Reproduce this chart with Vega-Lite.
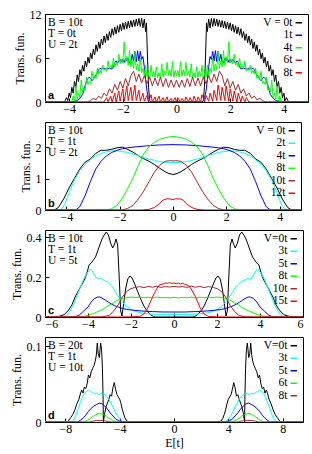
{
"$schema": "https://vega.github.io/schema/vega-lite/v6.json",
"padding": {"left": 9, "top": 7, "right": 8, "bottom": 2},
"spacing": 6,
"config": {
 "view": {"stroke": "#000", "strokeWidth": 1},
 "axis": {"grid": false, "domain": false, "tickSize": -4, "tickColor": "#000", "labelFont": "Liberation Serif", "labelFontSize": 12, "labelColor": "#000", "titleFont": "Liberation Serif", "titleFontSize": 12, "titleFontWeight": "normal", "titleColor": "#000", "titlePadding": 3},
 "axisX": {"labelPadding": 5, "format": "d"},
 "axisY": {"labelPadding": 8},
 "legend": {"orient": "top-right", "offset": 3, "padding": 0, "symbolType": "stroke", "symbolSize": 40, "symbolStrokeWidth": 1.5, "labelFont": "Liberation Serif", "labelFontSize": 11.5, "labelColor": "#000", "labelAlign": "right", "labelOffset": -12, "rowPadding": -0.5},
 "text": {"font": "Liberation Serif", "fontSize": 11.5, "color": "#000"}
},
"resolve": {"scale": {"color": "independent", "x": "independent", "y": "independent"}, "legend": {"color": "independent"}},
"datasets": {
"a": [
{"V":0,"E":-4.9,"T":0},{"V":0,"E":-4.2,"T":0},{"V":0,"E":-4.15,"T":0.2},{"V":0,"E":-4.1,"T":0.6},{"V":0,"E":-4.05,"T":0.2},{"V":0,"E":-4.0,"T":1.2},{"V":0,"E":-3.95,"T":0.6},{"V":0,"E":-3.9,"T":2.0},{"V":0,"E":-3.85,"T":1.2},{"V":0,"E":-3.8,"T":2.8},{"V":0,"E":-3.75,"T":2.0},{"V":0,"E":-3.7,"T":3.7},{"V":0,"E":-3.65,"T":2.8},{"V":0,"E":-3.6,"T":4.4},{"V":0,"E":-3.55,"T":3.6},{"V":0,"E":-3.5,"T":5.0},{"V":0,"E":-3.45,"T":4.2},{"V":0,"E":-3.4,"T":5.6},{"V":0,"E":-3.35,"T":4.8},{"V":0,"E":-3.3,"T":6.1},{"V":0,"E":-3.25,"T":5.3},{"V":0,"E":-3.2,"T":6.7},{"V":0,"E":-3.15,"T":5.9},{"V":0,"E":-3.1,"T":7.2},{"V":0,"E":-3.05,"T":6.4},{"V":0,"E":-3.0,"T":7.8},{"V":0,"E":-2.95,"T":6.9},{"V":0,"E":-2.9,"T":8.2},{"V":0,"E":-2.85,"T":7.3},{"V":0,"E":-2.8,"T":8.6},{"V":0,"E":-2.75,"T":7.8},{"V":0,"E":-2.7,"T":9.0},{"V":0,"E":-2.65,"T":8.1},{"V":0,"E":-2.6,"T":9.3},{"V":0,"E":-2.55,"T":8.4},{"V":0,"E":-2.5,"T":9.6},{"V":0,"E":-2.45,"T":8.8},{"V":0,"E":-2.4,"T":10.0},{"V":0,"E":-2.35,"T":9.1},{"V":0,"E":-2.3,"T":10.2},{"V":0,"E":-2.25,"T":9.3},{"V":0,"E":-2.2,"T":10.4},{"V":0,"E":-2.15,"T":9.5},{"V":0,"E":-2.1,"T":10.6},{"V":0,"E":-2.05,"T":9.7},{"V":0,"E":-2.0,"T":10.8},{"V":0,"E":-1.95,"T":9.9},{"V":0,"E":-1.9,"T":10.9},{"V":0,"E":-1.85,"T":10.0},{"V":0,"E":-1.8,"T":11.0},{"V":0,"E":-1.75,"T":10.1},{"V":0,"E":-1.7,"T":11.1},{"V":0,"E":-1.65,"T":10.2},{"V":0,"E":-1.6,"T":11.2},{"V":0,"E":-1.55,"T":10.3},{"V":0,"E":-1.5,"T":11.3},{"V":0,"E":-1.45,"T":10.4},{"V":0,"E":-1.4,"T":11.4},{"V":0,"E":-1.35,"T":10.3},{"V":0,"E":-1.3,"T":11.4},{"V":0,"E":-1.25,"T":10.1},{"V":0,"E":-1.2,"T":11.3},{"V":0,"E":-1.15,"T":9.6},{"V":0,"E":-1.12,"T":10.8},{"V":0,"E":-1.08,"T":6.0},{"V":0,"E":-1.04,"T":2.0},{"V":0,"E":-1.0,"T":0.2},{"V":0,"E":-0.95,"T":0},
{"V":0,"E":0.95,"T":0},{"V":0,"E":1.0,"T":0.2},{"V":0,"E":1.04,"T":2.0},{"V":0,"E":1.08,"T":6.0},{"V":0,"E":1.12,"T":10.8},{"V":0,"E":1.15,"T":9.6},{"V":0,"E":1.2,"T":11.3},{"V":0,"E":1.25,"T":10.1},{"V":0,"E":1.3,"T":11.4},{"V":0,"E":1.35,"T":10.3},{"V":0,"E":1.4,"T":11.4},{"V":0,"E":1.45,"T":10.4},{"V":0,"E":1.5,"T":11.3},{"V":0,"E":1.55,"T":10.3},{"V":0,"E":1.6,"T":11.2},{"V":0,"E":1.65,"T":10.2},{"V":0,"E":1.7,"T":11.1},{"V":0,"E":1.75,"T":10.1},{"V":0,"E":1.8,"T":11.0},{"V":0,"E":1.85,"T":10.0},{"V":0,"E":1.9,"T":10.9},{"V":0,"E":1.95,"T":9.9},{"V":0,"E":2.0,"T":10.8},{"V":0,"E":2.05,"T":9.7},{"V":0,"E":2.1,"T":10.6},{"V":0,"E":2.15,"T":9.5},{"V":0,"E":2.2,"T":10.4},{"V":0,"E":2.25,"T":9.3},{"V":0,"E":2.3,"T":10.2},{"V":0,"E":2.35,"T":9.1},{"V":0,"E":2.4,"T":10.0},{"V":0,"E":2.45,"T":8.8},{"V":0,"E":2.5,"T":9.6},{"V":0,"E":2.55,"T":8.4},{"V":0,"E":2.6,"T":9.3},{"V":0,"E":2.65,"T":8.1},{"V":0,"E":2.7,"T":9.0},{"V":0,"E":2.75,"T":7.8},{"V":0,"E":2.8,"T":8.6},{"V":0,"E":2.85,"T":7.3},{"V":0,"E":2.9,"T":8.2},{"V":0,"E":2.95,"T":6.9},{"V":0,"E":3.0,"T":7.8},{"V":0,"E":3.05,"T":6.4},{"V":0,"E":3.1,"T":7.2},{"V":0,"E":3.15,"T":5.9},{"V":0,"E":3.2,"T":6.7},{"V":0,"E":3.25,"T":5.3},{"V":0,"E":3.3,"T":6.1},{"V":0,"E":3.35,"T":4.8},{"V":0,"E":3.4,"T":5.6},{"V":0,"E":3.45,"T":4.2},{"V":0,"E":3.5,"T":5.0},{"V":0,"E":3.55,"T":3.6},{"V":0,"E":3.6,"T":4.4},{"V":0,"E":3.65,"T":2.8},{"V":0,"E":3.7,"T":3.7},{"V":0,"E":3.75,"T":2.0},{"V":0,"E":3.8,"T":2.8},{"V":0,"E":3.85,"T":1.2},{"V":0,"E":3.9,"T":2.0},{"V":0,"E":3.95,"T":0.6},{"V":0,"E":4.0,"T":1.2},{"V":0,"E":4.05,"T":0.2},{"V":0,"E":4.1,"T":0.6},{"V":0,"E":4.15,"T":0.2},{"V":0,"E":4.2,"T":0},{"V":0,"E":4.9,"T":0},
{"V":1,"E":-4.9,"T":0},{"V":1,"E":-3.9,"T":0},{"V":1,"E":-3.8,"T":0.1},{"V":1,"E":-3.7,"T":0.2},{"V":1,"E":-3.6,"T":0.5},{"V":1,"E":-3.5,"T":1.0},{"V":1,"E":-3.45,"T":1.6},{"V":1,"E":-3.4,"T":2.3},{"V":1,"E":-3.35,"T":2.9},{"V":1,"E":-3.3,"T":3.2},{"V":1,"E":-3.25,"T":3.4},{"V":1,"E":-3.2,"T":3.2},{"V":1,"E":-3.15,"T":2.9},{"V":1,"E":-3.1,"T":3.1},{"V":1,"E":-3.05,"T":3.5},{"V":1,"E":-3.0,"T":3.6},{"V":1,"E":-2.95,"T":4.0},{"V":1,"E":-2.9,"T":4.4},{"V":1,"E":-2.85,"T":4.6},{"V":1,"E":-2.8,"T":4.5},{"V":1,"E":-2.7,"T":4.6},{"V":1,"E":-2.6,"T":4.5},{"V":1,"E":-2.5,"T":4.6},{"V":1,"E":-2.4,"T":4.5},{"V":1,"E":-2.35,"T":4.8},{"V":1,"E":-2.3,"T":5.4},{"V":1,"E":-2.25,"T":5.6},{"V":1,"E":-2.2,"T":5.3},{"V":1,"E":-2.15,"T":5.6},{"V":1,"E":-2.1,"T":5.8},{"V":1,"E":-2.05,"T":5.5},{"V":1,"E":-2.0,"T":5.8},{"V":1,"E":-1.95,"T":5.4},{"V":1,"E":-1.9,"T":5.9},{"V":1,"E":-1.85,"T":5.6},{"V":1,"E":-1.8,"T":6.0},{"V":1,"E":-1.75,"T":5.3},{"V":1,"E":-1.7,"T":5.5},{"V":1,"E":-1.65,"T":6.5},{"V":1,"E":-1.6,"T":5.6},{"V":1,"E":-1.55,"T":6.9},{"V":1,"E":-1.5,"T":5.5},{"V":1,"E":-1.45,"T":7.0},{"V":1,"E":-1.4,"T":5.6},{"V":1,"E":-1.35,"T":6.9},{"V":1,"E":-1.3,"T":5.8},{"V":1,"E":-1.25,"T":6.2},{"V":1,"E":-1.2,"T":4.8},{"V":1,"E":-1.15,"T":3.0},{"V":1,"E":-1.1,"T":1.5},{"V":1,"E":-1.05,"T":0.6},{"V":1,"E":-1.0,"T":0.1},{"V":1,"E":-0.95,"T":0},
{"V":1,"E":0.95,"T":0},{"V":1,"E":1.0,"T":0.1},{"V":1,"E":1.05,"T":0.6},{"V":1,"E":1.1,"T":1.5},{"V":1,"E":1.15,"T":3.0},{"V":1,"E":1.2,"T":4.8},{"V":1,"E":1.25,"T":6.2},{"V":1,"E":1.3,"T":5.8},{"V":1,"E":1.35,"T":6.9},{"V":1,"E":1.4,"T":5.6},{"V":1,"E":1.45,"T":7.0},{"V":1,"E":1.5,"T":5.5},{"V":1,"E":1.55,"T":6.9},{"V":1,"E":1.6,"T":5.6},{"V":1,"E":1.65,"T":6.5},{"V":1,"E":1.7,"T":5.5},{"V":1,"E":1.75,"T":5.3},{"V":1,"E":1.8,"T":6.0},{"V":1,"E":1.85,"T":5.6},{"V":1,"E":1.9,"T":5.9},{"V":1,"E":1.95,"T":5.4},{"V":1,"E":2.0,"T":5.8},{"V":1,"E":2.05,"T":5.5},{"V":1,"E":2.1,"T":5.8},{"V":1,"E":2.15,"T":5.6},{"V":1,"E":2.2,"T":5.3},{"V":1,"E":2.25,"T":5.6},{"V":1,"E":2.3,"T":5.4},{"V":1,"E":2.35,"T":4.8},{"V":1,"E":2.4,"T":4.5},{"V":1,"E":2.5,"T":4.6},{"V":1,"E":2.6,"T":4.5},{"V":1,"E":2.7,"T":4.6},{"V":1,"E":2.8,"T":4.5},{"V":1,"E":2.85,"T":4.6},{"V":1,"E":2.9,"T":4.4},{"V":1,"E":2.95,"T":4.0},{"V":1,"E":3.0,"T":3.6},{"V":1,"E":3.05,"T":3.5},{"V":1,"E":3.1,"T":3.1},{"V":1,"E":3.15,"T":2.9},{"V":1,"E":3.2,"T":3.2},{"V":1,"E":3.25,"T":3.4},{"V":1,"E":3.3,"T":3.2},{"V":1,"E":3.35,"T":2.9},{"V":1,"E":3.4,"T":2.3},{"V":1,"E":3.45,"T":1.6},{"V":1,"E":3.5,"T":1.0},{"V":1,"E":3.6,"T":0.5},{"V":1,"E":3.7,"T":0.2},{"V":1,"E":3.8,"T":0.1},{"V":1,"E":3.9,"T":0},{"V":1,"E":4.9,"T":0},
{"V":4,"E":-4.9,"T":0},{"V":4,"E":-3.9,"T":0},{"V":4,"E":-3.85,"T":0.8},{"V":4,"E":-3.8,"T":0.1},{"V":4,"E":-3.75,"T":2.2},{"V":4,"E":-3.7,"T":0.4},{"V":4,"E":-3.65,"T":1.2},{"V":4,"E":-3.6,"T":0.6},{"V":4,"E":-3.55,"T":3.0},{"V":4,"E":-3.5,"T":1.4},{"V":4,"E":-3.45,"T":2.0},{"V":4,"E":-3.4,"T":1.6},{"V":4,"E":-3.35,"T":3.4},{"V":4,"E":-3.3,"T":2.4},{"V":4,"E":-3.25,"T":2.8},{"V":4,"E":-3.2,"T":2.5},{"V":4,"E":-3.15,"T":4.2},{"V":4,"E":-3.1,"T":3.0},{"V":4,"E":-3.05,"T":3.6},{"V":4,"E":-3.0,"T":3.2},{"V":4,"E":-2.95,"T":4.6},{"V":4,"E":-2.9,"T":3.8},{"V":4,"E":-2.85,"T":4.3},{"V":4,"E":-2.8,"T":3.9},{"V":4,"E":-2.75,"T":5.0},{"V":4,"E":-2.7,"T":4.3},{"V":4,"E":-2.65,"T":4.6},{"V":4,"E":-2.6,"T":4.2},{"V":4,"E":-2.55,"T":5.6},{"V":4,"E":-2.5,"T":4.5},{"V":4,"E":-2.45,"T":5.0},{"V":4,"E":-2.4,"T":4.6},{"V":4,"E":-2.35,"T":6.0},{"V":4,"E":-2.3,"T":4.8},{"V":4,"E":-2.25,"T":5.3},{"V":4,"E":-2.2,"T":5.0},{"V":4,"E":-2.15,"T":6.5},{"V":4,"E":-2.1,"T":5.2},{"V":4,"E":-2.05,"T":5.8},{"V":4,"E":-2.0,"T":5.3},{"V":4,"E":-1.95,"T":8.2},{"V":4,"E":-1.9,"T":5.4},{"V":4,"E":-1.85,"T":6.2},{"V":4,"E":-1.8,"T":5.0},{"V":4,"E":-1.75,"T":7.0},{"V":4,"E":-1.7,"T":4.8},{"V":4,"E":-1.65,"T":5.6},{"V":4,"E":-1.6,"T":4.6},{"V":4,"E":-1.55,"T":6.8},{"V":4,"E":-1.5,"T":4.4},{"V":4,"E":-1.45,"T":5.2},{"V":4,"E":-1.4,"T":4.2},{"V":4,"E":-1.35,"T":6.0},{"V":4,"E":-1.3,"T":4.0},{"V":4,"E":-1.25,"T":4.6},{"V":4,"E":-1.2,"T":3.6},{"V":4,"E":-1.15,"T":5.0},{"V":4,"E":-1.1,"T":3.4},{"V":4,"E":-1.05,"T":4.0},{"V":4,"E":-1.0,"T":3.2},{"V":4,"E":-0.95,"T":5.0},{"V":4,"E":-0.9,"T":3.5},{"V":4,"E":-0.85,"T":4.2},{"V":4,"E":-0.8,"T":3.4},{"V":4,"E":-0.75,"T":4.8},{"V":4,"E":-0.7,"T":3.3},{"V":4,"E":-0.65,"T":4.0},{"V":4,"E":-0.6,"T":3.2},{"V":4,"E":-0.55,"T":5.2},{"V":4,"E":-0.5,"T":3.4},{"V":4,"E":-0.45,"T":4.2},{"V":4,"E":-0.4,"T":3.6},{"V":4,"E":-0.35,"T":5.4},{"V":4,"E":-0.3,"T":3.6},{"V":4,"E":-0.25,"T":4.4},{"V":4,"E":-0.2,"T":3.5},{"V":4,"E":-0.15,"T":5.5},{"V":4,"E":-0.1,"T":3.4},{"V":4,"E":-0.05,"T":4.3},{"V":4,"E":0,"T":3.6},
{"V":4,"E":0.05,"T":4.3},{"V":4,"E":0.1,"T":3.4},{"V":4,"E":0.15,"T":5.5},{"V":4,"E":0.2,"T":3.5},{"V":4,"E":0.25,"T":4.4},{"V":4,"E":0.3,"T":3.6},{"V":4,"E":0.35,"T":5.4},{"V":4,"E":0.4,"T":3.6},{"V":4,"E":0.45,"T":4.2},{"V":4,"E":0.5,"T":3.4},{"V":4,"E":0.55,"T":5.2},{"V":4,"E":0.6,"T":3.2},{"V":4,"E":0.65,"T":4.0},{"V":4,"E":0.7,"T":3.3},{"V":4,"E":0.75,"T":4.8},{"V":4,"E":0.8,"T":3.4},{"V":4,"E":0.85,"T":4.2},{"V":4,"E":0.9,"T":3.5},{"V":4,"E":0.95,"T":5.0},{"V":4,"E":1.0,"T":3.2},{"V":4,"E":1.05,"T":4.0},{"V":4,"E":1.1,"T":3.4},{"V":4,"E":1.15,"T":5.0},{"V":4,"E":1.2,"T":3.6},{"V":4,"E":1.25,"T":4.6},{"V":4,"E":1.3,"T":4.0},{"V":4,"E":1.35,"T":6.0},{"V":4,"E":1.4,"T":4.2},{"V":4,"E":1.45,"T":5.2},{"V":4,"E":1.5,"T":4.4},{"V":4,"E":1.55,"T":6.8},{"V":4,"E":1.6,"T":4.6},{"V":4,"E":1.65,"T":5.6},{"V":4,"E":1.7,"T":4.8},{"V":4,"E":1.75,"T":7.0},{"V":4,"E":1.8,"T":5.0},{"V":4,"E":1.85,"T":6.2},{"V":4,"E":1.9,"T":5.4},{"V":4,"E":1.95,"T":8.2},{"V":4,"E":2.0,"T":5.3},{"V":4,"E":2.05,"T":5.8},{"V":4,"E":2.1,"T":5.2},{"V":4,"E":2.15,"T":6.5},{"V":4,"E":2.2,"T":5.0},{"V":4,"E":2.25,"T":5.3},{"V":4,"E":2.3,"T":4.8},{"V":4,"E":2.35,"T":6.0},{"V":4,"E":2.4,"T":4.6},{"V":4,"E":2.45,"T":5.0},{"V":4,"E":2.5,"T":4.5},{"V":4,"E":2.55,"T":5.6},{"V":4,"E":2.6,"T":4.2},{"V":4,"E":2.65,"T":4.6},{"V":4,"E":2.7,"T":4.3},{"V":4,"E":2.75,"T":5.0},{"V":4,"E":2.8,"T":3.9},{"V":4,"E":2.85,"T":4.3},{"V":4,"E":2.9,"T":3.8},{"V":4,"E":2.95,"T":4.6},{"V":4,"E":3.0,"T":3.2},{"V":4,"E":3.05,"T":3.6},{"V":4,"E":3.1,"T":3.0},{"V":4,"E":3.15,"T":4.2},{"V":4,"E":3.2,"T":2.5},{"V":4,"E":3.25,"T":2.8},{"V":4,"E":3.3,"T":2.4},{"V":4,"E":3.35,"T":3.4},{"V":4,"E":3.4,"T":1.6},{"V":4,"E":3.45,"T":2.0},{"V":4,"E":3.5,"T":1.4},{"V":4,"E":3.55,"T":3.0},{"V":4,"E":3.6,"T":0.6},{"V":4,"E":3.65,"T":1.2},{"V":4,"E":3.7,"T":0.4},{"V":4,"E":3.75,"T":2.2},{"V":4,"E":3.8,"T":0.1},{"V":4,"E":3.85,"T":0.8},{"V":4,"E":3.9,"T":0},{"V":4,"E":4.9,"T":0},
{"V":6,"E":-4.9,"T":0},{"V":6,"E":-3.3,"T":0},{"V":6,"E":-3.2,"T":0.2},{"V":6,"E":-3.1,"T":0.5},{"V":6,"E":-3.0,"T":0.3},{"V":6,"E":-2.9,"T":0.8},{"V":6,"E":-2.8,"T":0.5},{"V":6,"E":-2.7,"T":1.2},{"V":6,"E":-2.6,"T":0.8},{"V":6,"E":-2.5,"T":1.8},{"V":6,"E":-2.4,"T":1.2},{"V":6,"E":-2.3,"T":2.4},{"V":6,"E":-2.2,"T":1.6},{"V":6,"E":-2.1,"T":2.8},{"V":6,"E":-2.0,"T":1.9},{"V":6,"E":-1.9,"T":3.2},{"V":6,"E":-1.8,"T":2.2},{"V":6,"E":-1.7,"T":3.6},{"V":6,"E":-1.6,"T":4.2},{"V":6,"E":-1.5,"T":2.8},{"V":6,"E":-1.4,"T":3.8},{"V":6,"E":-1.3,"T":2.6},{"V":6,"E":-1.2,"T":3.6},{"V":6,"E":-1.1,"T":2.5},{"V":6,"E":-1.0,"T":3.4},{"V":6,"E":-0.9,"T":2.2},{"V":6,"E":-0.8,"T":3.3},{"V":6,"E":-0.7,"T":2.2},{"V":6,"E":-0.6,"T":3.4},{"V":6,"E":-0.5,"T":2.1},{"V":6,"E":-0.4,"T":3.2},{"V":6,"E":-0.3,"T":2.0},{"V":6,"E":-0.2,"T":3.0},{"V":6,"E":-0.1,"T":2.0},{"V":6,"E":0,"T":3.0},{"V":6,"E":0.1,"T":2.0},{"V":6,"E":0.2,"T":3.0},{"V":6,"E":0.3,"T":2.0},{"V":6,"E":0.4,"T":3.2},{"V":6,"E":0.5,"T":2.1},{"V":6,"E":0.6,"T":3.4},{"V":6,"E":0.7,"T":2.2},{"V":6,"E":0.8,"T":3.3},{"V":6,"E":0.9,"T":2.2},{"V":6,"E":1.0,"T":3.4},{"V":6,"E":1.1,"T":2.5},{"V":6,"E":1.2,"T":3.6},{"V":6,"E":1.3,"T":2.6},{"V":6,"E":1.4,"T":3.8},{"V":6,"E":1.5,"T":2.8},{"V":6,"E":1.6,"T":4.2},{"V":6,"E":1.7,"T":3.6},{"V":6,"E":1.8,"T":2.2},{"V":6,"E":1.9,"T":3.2},{"V":6,"E":2.0,"T":1.9},{"V":6,"E":2.1,"T":2.8},{"V":6,"E":2.2,"T":1.6},{"V":6,"E":2.3,"T":2.4},{"V":6,"E":2.4,"T":1.2},{"V":6,"E":2.5,"T":1.8},{"V":6,"E":2.6,"T":0.8},{"V":6,"E":2.7,"T":1.2},{"V":6,"E":2.8,"T":0.5},{"V":6,"E":2.9,"T":0.8},{"V":6,"E":3.0,"T":0.3},{"V":6,"E":3.1,"T":0.5},{"V":6,"E":3.2,"T":0.2},{"V":6,"E":3.3,"T":0},{"V":6,"E":4.9,"T":0},
{"V":8,"E":-4.9,"T":0},{"V":8,"E":-2.7,"T":0},{"V":8,"E":-2.6,"T":0.6},{"V":8,"E":-2.55,"T":0},{"V":8,"E":-2.45,"T":0.8},{"V":8,"E":-2.4,"T":0},{"V":8,"E":-2.3,"T":1.2},{"V":8,"E":-2.25,"T":0},{"V":8,"E":-2.15,"T":1.5},{"V":8,"E":-2.1,"T":0.1},{"V":8,"E":-2.0,"T":1.8},{"V":8,"E":-1.95,"T":0.1},{"V":8,"E":-1.85,"T":2.2},{"V":8,"E":-1.8,"T":0.2},{"V":8,"E":-1.7,"T":2.0},{"V":8,"E":-1.65,"T":0.2},{"V":8,"E":-1.55,"T":2.3},{"V":8,"E":-1.5,"T":0.2},{"V":8,"E":-1.4,"T":1.6},{"V":8,"E":-1.35,"T":0.1},{"V":8,"E":-1.25,"T":1.2},{"V":8,"E":-1.2,"T":0.1},{"V":8,"E":-1.1,"T":0.9},{"V":8,"E":-1.05,"T":0},{"V":8,"E":-0.95,"T":1.0},{"V":8,"E":-0.9,"T":0},{"V":8,"E":-0.8,"T":0.7},{"V":8,"E":-0.75,"T":0},{"V":8,"E":-0.65,"T":0.8},{"V":8,"E":-0.6,"T":0},{"V":8,"E":-0.5,"T":0.6},{"V":8,"E":-0.45,"T":0},{"V":8,"E":-0.35,"T":0.7},{"V":8,"E":-0.3,"T":0},{"V":8,"E":-0.2,"T":0.5},{"V":8,"E":-0.15,"T":0},{"V":8,"E":-0.05,"T":0.6},{"V":8,"E":0,"T":0},{"V":8,"E":0.05,"T":0.6},{"V":8,"E":0.15,"T":0},{"V":8,"E":0.2,"T":0.5},{"V":8,"E":0.3,"T":0},{"V":8,"E":0.35,"T":0.7},{"V":8,"E":0.45,"T":0},{"V":8,"E":0.5,"T":0.6},{"V":8,"E":0.6,"T":0},{"V":8,"E":0.65,"T":0.8},{"V":8,"E":0.75,"T":0},{"V":8,"E":0.8,"T":0.7},{"V":8,"E":0.9,"T":0},{"V":8,"E":0.95,"T":1.0},{"V":8,"E":1.05,"T":0},{"V":8,"E":1.1,"T":0.9},{"V":8,"E":1.2,"T":0.1},{"V":8,"E":1.25,"T":1.2},{"V":8,"E":1.35,"T":0.1},{"V":8,"E":1.4,"T":1.6},{"V":8,"E":1.5,"T":0.2},{"V":8,"E":1.55,"T":2.3},{"V":8,"E":1.65,"T":0.2},{"V":8,"E":1.7,"T":2.0},{"V":8,"E":1.8,"T":0.2},{"V":8,"E":1.85,"T":2.2},{"V":8,"E":1.95,"T":0.1},{"V":8,"E":2.0,"T":1.8},{"V":8,"E":2.1,"T":0.1},{"V":8,"E":2.15,"T":1.5},{"V":8,"E":2.25,"T":0},{"V":8,"E":2.3,"T":1.2},{"V":8,"E":2.4,"T":0},{"V":8,"E":2.45,"T":0.8},{"V":8,"E":2.55,"T":0},{"V":8,"E":2.6,"T":0.6},{"V":8,"E":2.7,"T":0},{"V":8,"E":4.9,"T":0}
],
"b": [
{"V":0,"E":-4.8,"T":0},{"V":0,"E":-4.45,"T":0},{"V":0,"E":-4.3,"T":0.08},{"V":0,"E":-4.1,"T":0.35},{"V":0,"E":-3.9,"T":0.7},{"V":0,"E":-3.7,"T":1.0},{"V":0,"E":-3.5,"T":1.3},{"V":0,"E":-3.3,"T":1.52},{"V":0,"E":-3.1,"T":1.62},{"V":0,"E":-2.9,"T":1.8},{"V":0,"E":-2.7,"T":1.9},{"V":0,"E":-2.5,"T":1.9},{"V":0,"E":-2.3,"T":1.93},{"V":0,"E":-2.1,"T":1.98},{"V":0,"E":-1.9,"T":2.0},{"V":0,"E":-1.7,"T":1.93},{"V":0,"E":-1.5,"T":1.84},{"V":0,"E":-1.3,"T":1.73},{"V":0,"E":-1.1,"T":1.63},{"V":0,"E":-0.9,"T":1.55},{"V":0,"E":-0.7,"T":1.45},{"V":0,"E":-0.5,"T":1.33},{"V":0,"E":-0.3,"T":1.22},{"V":0,"E":-0.15,"T":1.16},{"V":0,"E":0,"T":1.13},{"V":0,"E":0.15,"T":1.16},{"V":0,"E":0.3,"T":1.22},{"V":0,"E":0.5,"T":1.33},{"V":0,"E":0.7,"T":1.45},{"V":0,"E":0.9,"T":1.55},{"V":0,"E":1.1,"T":1.63},{"V":0,"E":1.3,"T":1.73},{"V":0,"E":1.5,"T":1.84},{"V":0,"E":1.7,"T":1.93},{"V":0,"E":1.9,"T":2.0},{"V":0,"E":2.1,"T":1.98},{"V":0,"E":2.3,"T":1.93},{"V":0,"E":2.5,"T":1.9},{"V":0,"E":2.7,"T":1.9},{"V":0,"E":2.9,"T":1.8},{"V":0,"E":3.1,"T":1.62},{"V":0,"E":3.3,"T":1.52},{"V":0,"E":3.5,"T":1.3},{"V":0,"E":3.7,"T":1.0},{"V":0,"E":3.9,"T":0.7},{"V":0,"E":4.1,"T":0.35},{"V":0,"E":4.3,"T":0.08},{"V":0,"E":4.45,"T":0},{"V":0,"E":4.8,"T":0},
{"V":2,"E":-4.8,"T":0},{"V":2,"E":-4.2,"T":0},{"V":2,"E":-4.05,"T":0.2},{"V":2,"E":-3.9,"T":0.55},{"V":2,"E":-3.7,"T":0.95},{"V":2,"E":-3.5,"T":1.25},{"V":2,"E":-3.3,"T":1.45},{"V":2,"E":-3.1,"T":1.6},{"V":2,"E":-2.9,"T":1.72},{"V":2,"E":-2.7,"T":1.8},{"V":2,"E":-2.5,"T":1.85},{"V":2,"E":-2.3,"T":1.88},{"V":2,"E":-2.1,"T":1.88},{"V":2,"E":-1.9,"T":1.86},{"V":2,"E":-1.7,"T":1.83},{"V":2,"E":-1.5,"T":1.78},{"V":2,"E":-1.3,"T":1.73},{"V":2,"E":-1.1,"T":1.67},{"V":2,"E":-0.9,"T":1.62},{"V":2,"E":-0.7,"T":1.58},{"V":2,"E":-0.5,"T":1.54},{"V":2,"E":-0.3,"T":1.52},{"V":2,"E":0,"T":1.51},{"V":2,"E":0.3,"T":1.52},{"V":2,"E":0.5,"T":1.54},{"V":2,"E":0.7,"T":1.58},{"V":2,"E":0.9,"T":1.62},{"V":2,"E":1.1,"T":1.67},{"V":2,"E":1.3,"T":1.73},{"V":2,"E":1.5,"T":1.78},{"V":2,"E":1.7,"T":1.83},{"V":2,"E":1.9,"T":1.86},{"V":2,"E":2.1,"T":1.88},{"V":2,"E":2.3,"T":1.88},{"V":2,"E":2.5,"T":1.85},{"V":2,"E":2.7,"T":1.8},{"V":2,"E":2.9,"T":1.72},{"V":2,"E":3.1,"T":1.6},{"V":2,"E":3.3,"T":1.45},{"V":2,"E":3.5,"T":1.25},{"V":2,"E":3.7,"T":0.95},{"V":2,"E":3.9,"T":0.55},{"V":2,"E":4.05,"T":0.2},{"V":2,"E":4.2,"T":0},{"V":2,"E":4.8,"T":0},
{"V":4,"E":-4.8,"T":0},{"V":4,"E":-3.65,"T":0},{"V":4,"E":-3.5,"T":0.1},{"V":4,"E":-3.3,"T":0.45},{"V":4,"E":-3.1,"T":0.9},{"V":4,"E":-2.9,"T":1.3},{"V":4,"E":-2.7,"T":1.55},{"V":4,"E":-2.5,"T":1.72},{"V":4,"E":-2.3,"T":1.83},{"V":4,"E":-2.1,"T":1.9},{"V":4,"E":-1.9,"T":1.95},{"V":4,"E":-1.7,"T":1.98},{"V":4,"E":-1.5,"T":2.0},{"V":4,"E":-1.0,"T":2.04},{"V":4,"E":-0.5,"T":2.07},{"V":4,"E":0,"T":2.08},{"V":4,"E":0.5,"T":2.07},{"V":4,"E":1.0,"T":2.04},{"V":4,"E":1.5,"T":2.0},{"V":4,"E":1.7,"T":1.98},{"V":4,"E":1.9,"T":1.95},{"V":4,"E":2.1,"T":1.9},{"V":4,"E":2.3,"T":1.83},{"V":4,"E":2.5,"T":1.72},{"V":4,"E":2.7,"T":1.55},{"V":4,"E":2.9,"T":1.3},{"V":4,"E":3.1,"T":0.9},{"V":4,"E":3.3,"T":0.45},{"V":4,"E":3.5,"T":0.1},{"V":4,"E":3.65,"T":0},{"V":4,"E":4.8,"T":0},
{"V":8,"E":-4.8,"T":0},{"V":8,"E":-2.5,"T":0},{"V":8,"E":-2.3,"T":0.04},{"V":8,"E":-2.1,"T":0.15},{"V":8,"E":-1.9,"T":0.38},{"V":8,"E":-1.7,"T":0.68},{"V":8,"E":-1.5,"T":1.02},{"V":8,"E":-1.3,"T":1.42},{"V":8,"E":-1.1,"T":1.78},{"V":8,"E":-0.9,"T":2.02},{"V":8,"E":-0.7,"T":2.15},{"V":8,"E":-0.5,"T":2.25},{"V":8,"E":-0.3,"T":2.3},{"V":8,"E":-0.1,"T":2.33},{"V":8,"E":0,"T":2.34},{"V":8,"E":0.1,"T":2.33},{"V":8,"E":0.3,"T":2.3},{"V":8,"E":0.5,"T":2.25},{"V":8,"E":0.7,"T":2.15},{"V":8,"E":0.9,"T":2.02},{"V":8,"E":1.1,"T":1.78},{"V":8,"E":1.3,"T":1.42},{"V":8,"E":1.5,"T":1.02},{"V":8,"E":1.7,"T":0.68},{"V":8,"E":1.9,"T":0.38},{"V":8,"E":2.1,"T":0.15},{"V":8,"E":2.3,"T":0.04},{"V":8,"E":2.5,"T":0},{"V":8,"E":4.8,"T":0},
{"V":10,"E":-4.8,"T":0},{"V":10,"E":-1.9,"T":0},{"V":10,"E":-1.7,"T":0.05},{"V":10,"E":-1.5,"T":0.15},{"V":10,"E":-1.3,"T":0.35},{"V":10,"E":-1.1,"T":0.6},{"V":10,"E":-0.9,"T":0.9},{"V":10,"E":-0.7,"T":1.2},{"V":10,"E":-0.5,"T":1.42},{"V":10,"E":-0.3,"T":1.55},{"V":10,"E":-0.1,"T":1.57},{"V":10,"E":0,"T":1.56},{"V":10,"E":0.1,"T":1.57},{"V":10,"E":0.3,"T":1.55},{"V":10,"E":0.5,"T":1.42},{"V":10,"E":0.7,"T":1.2},{"V":10,"E":0.9,"T":0.9},{"V":10,"E":1.1,"T":0.6},{"V":10,"E":1.3,"T":0.35},{"V":10,"E":1.5,"T":0.15},{"V":10,"E":1.7,"T":0.05},{"V":10,"E":1.9,"T":0},{"V":10,"E":4.8,"T":0},
{"V":12,"E":-4.8,"T":0},{"V":12,"E":-1.2,"T":0},{"V":12,"E":-0.9,"T":0.02},{"V":12,"E":-0.7,"T":0.08},{"V":12,"E":-0.5,"T":0.2},{"V":12,"E":-0.4,"T":0.3},{"V":12,"E":-0.3,"T":0.34},{"V":12,"E":-0.2,"T":0.36},{"V":12,"E":-0.1,"T":0.35},{"V":12,"E":0,"T":0.33},{"V":12,"E":0.1,"T":0.36},{"V":12,"E":0.2,"T":0.35},{"V":12,"E":0.3,"T":0.35},{"V":12,"E":0.4,"T":0.3},{"V":12,"E":0.5,"T":0.2},{"V":12,"E":0.7,"T":0.08},{"V":12,"E":0.9,"T":0.02},{"V":12,"E":1.2,"T":0},{"V":12,"E":4.8,"T":0}
],
"c": [
{"V":0,"E":-6,"T":0},{"V":0,"E":-5.5,"T":0},{"V":0,"E":-5.3,"T":0.005},{"V":0,"E":-5.1,"T":0.012},{"V":0,"E":-4.9,"T":0.035},{"V":0,"E":-4.75,"T":0.06},{"V":0,"E":-4.6,"T":0.1},{"V":0,"E":-4.45,"T":0.13},{"V":0,"E":-4.3,"T":0.16},{"V":0,"E":-4.15,"T":0.19},{"V":0,"E":-4.05,"T":0.22},{"V":0,"E":-3.95,"T":0.26},{"V":0,"E":-3.85,"T":0.27},{"V":0,"E":-3.75,"T":0.285},{"V":0,"E":-3.65,"T":0.3},{"V":0,"E":-3.55,"T":0.33},{"V":0,"E":-3.45,"T":0.36},{"V":0,"E":-3.35,"T":0.39},{"V":0,"E":-3.25,"T":0.41},{"V":0,"E":-3.15,"T":0.425},{"V":0,"E":-3.05,"T":0.41},{"V":0,"E":-2.95,"T":0.37},{"V":0,"E":-2.85,"T":0.345},{"V":0,"E":-2.75,"T":0.37},{"V":0,"E":-2.7,"T":0.39},{"V":0,"E":-2.62,"T":0.36},{"V":0,"E":-2.55,"T":0.2},{"V":0,"E":-2.48,"T":0.03},{"V":0,"E":-2.42,"T":0.005},{"V":0,"E":-2.35,"T":0.06},{"V":0,"E":-2.25,"T":0.14},{"V":0,"E":-2.15,"T":0.19},{"V":0,"E":-2.05,"T":0.205},{"V":0,"E":-1.95,"T":0.195},{"V":0,"E":-1.85,"T":0.17},{"V":0,"E":-1.7,"T":0.13},{"V":0,"E":-1.55,"T":0.09},{"V":0,"E":-1.4,"T":0.055},{"V":0,"E":-1.25,"T":0.03},{"V":0,"E":-1.1,"T":0.012},{"V":0,"E":-0.95,"T":0.002},{"V":0,"E":-0.85,"T":0},
{"V":0,"E":0.85,"T":0},{"V":0,"E":0.95,"T":0.002},{"V":0,"E":1.1,"T":0.012},{"V":0,"E":1.25,"T":0.03},{"V":0,"E":1.4,"T":0.055},{"V":0,"E":1.55,"T":0.09},{"V":0,"E":1.7,"T":0.13},{"V":0,"E":1.85,"T":0.17},{"V":0,"E":1.95,"T":0.195},{"V":0,"E":2.05,"T":0.205},{"V":0,"E":2.15,"T":0.19},{"V":0,"E":2.25,"T":0.14},{"V":0,"E":2.35,"T":0.06},{"V":0,"E":2.42,"T":0.005},{"V":0,"E":2.48,"T":0.03},{"V":0,"E":2.55,"T":0.2},{"V":0,"E":2.62,"T":0.36},{"V":0,"E":2.7,"T":0.39},{"V":0,"E":2.75,"T":0.37},{"V":0,"E":2.85,"T":0.345},{"V":0,"E":2.95,"T":0.37},{"V":0,"E":3.05,"T":0.41},{"V":0,"E":3.15,"T":0.425},{"V":0,"E":3.25,"T":0.41},{"V":0,"E":3.35,"T":0.39},{"V":0,"E":3.45,"T":0.36},{"V":0,"E":3.55,"T":0.33},{"V":0,"E":3.65,"T":0.3},{"V":0,"E":3.75,"T":0.285},{"V":0,"E":3.85,"T":0.27},{"V":0,"E":3.95,"T":0.26},{"V":0,"E":4.05,"T":0.22},{"V":0,"E":4.15,"T":0.19},{"V":0,"E":4.3,"T":0.16},{"V":0,"E":4.45,"T":0.13},{"V":0,"E":4.6,"T":0.1},{"V":0,"E":4.75,"T":0.06},{"V":0,"E":4.9,"T":0.035},{"V":0,"E":5.1,"T":0.012},{"V":0,"E":5.3,"T":0.005},{"V":0,"E":5.5,"T":0},{"V":0,"E":6,"T":0},
{"V":3,"E":-6,"T":0},{"V":3,"E":-5.1,"T":0},{"V":3,"E":-4.95,"T":0.01},{"V":3,"E":-4.8,"T":0.035},{"V":3,"E":-4.65,"T":0.07},{"V":3,"E":-4.5,"T":0.11},{"V":3,"E":-4.35,"T":0.15},{"V":3,"E":-4.2,"T":0.19},{"V":3,"E":-4.1,"T":0.21},{"V":3,"E":-4.0,"T":0.225},{"V":3,"E":-3.9,"T":0.24},{"V":3,"E":-3.8,"T":0.23},{"V":3,"E":-3.7,"T":0.21},{"V":3,"E":-3.6,"T":0.195},{"V":3,"E":-3.5,"T":0.19},{"V":3,"E":-3.4,"T":0.192},{"V":3,"E":-3.3,"T":0.185},{"V":3,"E":-3.2,"T":0.18},{"V":3,"E":-3.1,"T":0.175},{"V":3,"E":-3.0,"T":0.165},{"V":3,"E":-2.9,"T":0.155},{"V":3,"E":-2.8,"T":0.14},{"V":3,"E":-2.7,"T":0.12},{"V":3,"E":-2.6,"T":0.105},{"V":3,"E":-2.5,"T":0.09},{"V":3,"E":-2.4,"T":0.075},{"V":3,"E":-2.3,"T":0.062},{"V":3,"E":-2.2,"T":0.052},{"V":3,"E":-2.0,"T":0.038},{"V":3,"E":-1.8,"T":0.028},{"V":3,"E":-1.5,"T":0.02},{"V":3,"E":-1.2,"T":0.016},{"V":3,"E":-0.8,"T":0.013},{"V":3,"E":-0.4,"T":0.012},{"V":3,"E":0,"T":0.012},{"V":3,"E":0.4,"T":0.012},{"V":3,"E":0.8,"T":0.013},{"V":3,"E":1.2,"T":0.016},{"V":3,"E":1.5,"T":0.02},{"V":3,"E":1.8,"T":0.028},{"V":3,"E":2.0,"T":0.038},{"V":3,"E":2.2,"T":0.052},{"V":3,"E":2.3,"T":0.062},{"V":3,"E":2.4,"T":0.075},{"V":3,"E":2.5,"T":0.09},{"V":3,"E":2.6,"T":0.105},{"V":3,"E":2.7,"T":0.12},{"V":3,"E":2.8,"T":0.14},{"V":3,"E":2.9,"T":0.155},{"V":3,"E":3.0,"T":0.165},{"V":3,"E":3.1,"T":0.175},{"V":3,"E":3.2,"T":0.18},{"V":3,"E":3.3,"T":0.185},{"V":3,"E":3.4,"T":0.192},{"V":3,"E":3.5,"T":0.19},{"V":3,"E":3.6,"T":0.195},{"V":3,"E":3.7,"T":0.21},{"V":3,"E":3.8,"T":0.23},{"V":3,"E":3.9,"T":0.24},{"V":3,"E":4.0,"T":0.225},{"V":3,"E":4.1,"T":0.21},{"V":3,"E":4.2,"T":0.19},{"V":3,"E":4.35,"T":0.15},{"V":3,"E":4.5,"T":0.11},{"V":3,"E":4.65,"T":0.07},{"V":3,"E":4.8,"T":0.035},{"V":3,"E":4.95,"T":0.01},{"V":3,"E":5.1,"T":0},{"V":3,"E":6,"T":0},
{"V":5,"E":-6,"T":0},{"V":5,"E":-4.6,"T":0},{"V":5,"E":-4.4,"T":0.01},{"V":5,"E":-4.2,"T":0.03},{"V":5,"E":-4.0,"T":0.05},{"V":5,"E":-3.85,"T":0.075},{"V":5,"E":-3.7,"T":0.092},{"V":5,"E":-3.55,"T":0.1},{"V":5,"E":-3.45,"T":0.1},{"V":5,"E":-3.35,"T":0.095},{"V":5,"E":-3.2,"T":0.085},{"V":5,"E":-3.05,"T":0.074},{"V":5,"E":-2.9,"T":0.064},{"V":5,"E":-2.75,"T":0.056},{"V":5,"E":-2.6,"T":0.05},{"V":5,"E":-2.4,"T":0.043},{"V":5,"E":-2.2,"T":0.038},{"V":5,"E":-2.0,"T":0.035},{"V":5,"E":-1.5,"T":0.03},{"V":5,"E":-1.0,"T":0.027},{"V":5,"E":-0.5,"T":0.025},{"V":5,"E":0,"T":0.025},{"V":5,"E":0.5,"T":0.025},{"V":5,"E":1.0,"T":0.027},{"V":5,"E":1.5,"T":0.03},{"V":5,"E":2.0,"T":0.035},{"V":5,"E":2.2,"T":0.038},{"V":5,"E":2.4,"T":0.043},{"V":5,"E":2.6,"T":0.05},{"V":5,"E":2.75,"T":0.056},{"V":5,"E":2.9,"T":0.064},{"V":5,"E":3.05,"T":0.074},{"V":5,"E":3.2,"T":0.085},{"V":5,"E":3.35,"T":0.095},{"V":5,"E":3.45,"T":0.1},{"V":5,"E":3.55,"T":0.1},{"V":5,"E":3.7,"T":0.092},{"V":5,"E":3.85,"T":0.075},{"V":5,"E":4.0,"T":0.05},{"V":5,"E":4.2,"T":0.03},{"V":5,"E":4.4,"T":0.01},{"V":5,"E":4.6,"T":0},{"V":5,"E":6,"T":0},
{"V":8,"E":-6,"T":0},{"V":8,"E":-4.4,"T":0},{"V":8,"E":-4.2,"T":0.003},{"V":8,"E":-4.0,"T":0.008},{"V":8,"E":-3.8,"T":0.015},{"V":8,"E":-3.6,"T":0.024},{"V":8,"E":-3.4,"T":0.034},{"V":8,"E":-3.2,"T":0.046},{"V":8,"E":-3.0,"T":0.06},{"V":8,"E":-2.8,"T":0.072},{"V":8,"E":-2.6,"T":0.085},{"V":8,"E":-2.4,"T":0.093},{"V":8,"E":-2.2,"T":0.097},{"V":8,"E":-2.0,"T":0.1},{"V":8,"E":-1.8,"T":0.097},{"V":8,"E":-1.6,"T":0.1},{"V":8,"E":-1.4,"T":0.096},{"V":8,"E":-1.2,"T":0.099},{"V":8,"E":-1.0,"T":0.095},{"V":8,"E":-0.8,"T":0.1},{"V":8,"E":-0.6,"T":0.096},{"V":8,"E":-0.4,"T":0.098},{"V":8,"E":-0.2,"T":0.095},{"V":8,"E":0,"T":0.099},{"V":8,"E":0.2,"T":0.095},{"V":8,"E":0.4,"T":0.098},{"V":8,"E":0.6,"T":0.096},{"V":8,"E":0.8,"T":0.1},{"V":8,"E":1.0,"T":0.095},{"V":8,"E":1.2,"T":0.099},{"V":8,"E":1.4,"T":0.096},{"V":8,"E":1.6,"T":0.1},{"V":8,"E":1.8,"T":0.097},{"V":8,"E":2.0,"T":0.1},{"V":8,"E":2.2,"T":0.097},{"V":8,"E":2.4,"T":0.093},{"V":8,"E":2.6,"T":0.085},{"V":8,"E":2.8,"T":0.072},{"V":8,"E":3.0,"T":0.06},{"V":8,"E":3.2,"T":0.046},{"V":8,"E":3.4,"T":0.034},{"V":8,"E":3.6,"T":0.024},{"V":8,"E":3.8,"T":0.015},{"V":8,"E":4.0,"T":0.008},{"V":8,"E":4.2,"T":0.003},{"V":8,"E":4.4,"T":0},{"V":8,"E":6,"T":0},
{"V":10,"E":-6,"T":0},{"V":10,"E":-3.4,"T":0},{"V":10,"E":-3.2,"T":0.003},{"V":10,"E":-3.0,"T":0.01},{"V":10,"E":-2.8,"T":0.03},{"V":10,"E":-2.6,"T":0.06},{"V":10,"E":-2.4,"T":0.1},{"V":10,"E":-2.2,"T":0.128},{"V":10,"E":-2.0,"T":0.142},{"V":10,"E":-1.8,"T":0.148},{"V":10,"E":-1.6,"T":0.152},{"V":10,"E":-1.4,"T":0.147},{"V":10,"E":-1.2,"T":0.153},{"V":10,"E":-1.0,"T":0.149},{"V":10,"E":-0.8,"T":0.154},{"V":10,"E":-0.6,"T":0.148},{"V":10,"E":-0.4,"T":0.152},{"V":10,"E":-0.2,"T":0.15},{"V":10,"E":0,"T":0.153},{"V":10,"E":0.2,"T":0.15},{"V":10,"E":0.4,"T":0.152},{"V":10,"E":0.6,"T":0.148},{"V":10,"E":0.8,"T":0.154},{"V":10,"E":1.0,"T":0.149},{"V":10,"E":1.2,"T":0.153},{"V":10,"E":1.4,"T":0.147},{"V":10,"E":1.6,"T":0.152},{"V":10,"E":1.8,"T":0.148},{"V":10,"E":2.0,"T":0.142},{"V":10,"E":2.2,"T":0.128},{"V":10,"E":2.4,"T":0.1},{"V":10,"E":2.6,"T":0.06},{"V":10,"E":2.8,"T":0.03},{"V":10,"E":3.0,"T":0.01},{"V":10,"E":3.2,"T":0.003},{"V":10,"E":3.4,"T":0},{"V":10,"E":6,"T":0},
{"V":15,"E":-6,"T":0},{"V":15,"E":-2.6,"T":0},{"V":15,"E":-2.0,"T":0.001},{"V":15,"E":-1.6,"T":0.003},{"V":15,"E":-1.4,"T":0.015},{"V":15,"E":-1.3,"T":0.03},{"V":15,"E":-1.2,"T":0.05},{"V":15,"E":-1.1,"T":0.075},{"V":15,"E":-1.0,"T":0.1},{"V":15,"E":-0.9,"T":0.122},{"V":15,"E":-0.8,"T":0.142},{"V":15,"E":-0.7,"T":0.158},{"V":15,"E":-0.6,"T":0.163},{"V":15,"E":-0.5,"T":0.166},{"V":15,"E":-0.4,"T":0.17},{"V":15,"E":-0.3,"T":0.168},{"V":15,"E":-0.2,"T":0.172},{"V":15,"E":-0.1,"T":0.167},{"V":15,"E":0,"T":0.171},{"V":15,"E":0.1,"T":0.166},{"V":15,"E":0.2,"T":0.17},{"V":15,"E":0.3,"T":0.165},{"V":15,"E":0.4,"T":0.169},{"V":15,"E":0.5,"T":0.163},{"V":15,"E":0.6,"T":0.16},{"V":15,"E":0.7,"T":0.155},{"V":15,"E":0.8,"T":0.14},{"V":15,"E":0.9,"T":0.12},{"V":15,"E":1.0,"T":0.1},{"V":15,"E":1.1,"T":0.075},{"V":15,"E":1.2,"T":0.05},{"V":15,"E":1.3,"T":0.03},{"V":15,"E":1.4,"T":0.015},{"V":15,"E":1.6,"T":0.003},{"V":15,"E":2.0,"T":0.001},{"V":15,"E":2.6,"T":0},{"V":15,"E":6,"T":0}
],
"d": [
{"V":0,"E":-9.5,"T":0},{"V":0,"E":-7.9,"T":0},{"V":0,"E":-7.75,"T":0.002},{"V":0,"E":-7.6,"T":0.006},{"V":0,"E":-7.45,"T":0.01},{"V":0,"E":-7.3,"T":0.016},{"V":0,"E":-7.15,"T":0.024},{"V":0,"E":-7.0,"T":0.03},{"V":0,"E":-6.9,"T":0.037},{"V":0,"E":-6.8,"T":0.042},{"V":0,"E":-6.7,"T":0.038},{"V":0,"E":-6.6,"T":0.046},{"V":0,"E":-6.5,"T":0.044},{"V":0,"E":-6.4,"T":0.05},{"V":0,"E":-6.3,"T":0.062},{"V":0,"E":-6.2,"T":0.058},{"V":0,"E":-6.1,"T":0.066},{"V":0,"E":-6.0,"T":0.07},{"V":0,"E":-5.9,"T":0.074},{"V":0,"E":-5.8,"T":0.08},{"V":0,"E":-5.72,"T":0.088},{"V":0,"E":-5.65,"T":0.104},{"V":0,"E":-5.58,"T":0.09},{"V":0,"E":-5.5,"T":0.085},{"V":0,"E":-5.45,"T":0.095},{"V":0,"E":-5.4,"T":0.104},{"V":0,"E":-5.33,"T":0.095},{"V":0,"E":-5.27,"T":0.07},{"V":0,"E":-5.22,"T":0.03},{"V":0,"E":-5.2,"T":0.0},{"V":0,"E":-5.1,"T":0.012},{"V":0,"E":-5.0,"T":0.02},{"V":0,"E":-4.9,"T":0.025},{"V":0,"E":-4.8,"T":0.03},{"V":0,"E":-4.7,"T":0.036},{"V":0,"E":-4.6,"T":0.034},{"V":0,"E":-4.5,"T":0.045},{"V":0,"E":-4.4,"T":0.052},{"V":0,"E":-4.3,"T":0.043},{"V":0,"E":-4.2,"T":0.036},{"V":0,"E":-4.1,"T":0.033},{"V":0,"E":-4.0,"T":0.03},{"V":0,"E":-3.9,"T":0.024},{"V":0,"E":-3.8,"T":0.016},{"V":0,"E":-3.7,"T":0.01},{"V":0,"E":-3.6,"T":0.005},{"V":0,"E":-3.45,"T":0.001},{"V":0,"E":-3.3,"T":0},
{"V":0,"E":3.3,"T":0},{"V":0,"E":3.45,"T":0.001},{"V":0,"E":3.6,"T":0.005},{"V":0,"E":3.7,"T":0.01},{"V":0,"E":3.8,"T":0.016},{"V":0,"E":3.9,"T":0.024},{"V":0,"E":4.0,"T":0.03},{"V":0,"E":4.1,"T":0.033},{"V":0,"E":4.2,"T":0.036},{"V":0,"E":4.3,"T":0.043},{"V":0,"E":4.4,"T":0.052},{"V":0,"E":4.5,"T":0.045},{"V":0,"E":4.6,"T":0.034},{"V":0,"E":4.7,"T":0.036},{"V":0,"E":4.8,"T":0.03},{"V":0,"E":4.9,"T":0.025},{"V":0,"E":5.0,"T":0.02},{"V":0,"E":5.1,"T":0.012},{"V":0,"E":5.2,"T":0.0},{"V":0,"E":5.22,"T":0.03},{"V":0,"E":5.27,"T":0.07},{"V":0,"E":5.33,"T":0.095},{"V":0,"E":5.4,"T":0.104},{"V":0,"E":5.45,"T":0.095},{"V":0,"E":5.5,"T":0.085},{"V":0,"E":5.58,"T":0.09},{"V":0,"E":5.65,"T":0.104},{"V":0,"E":5.72,"T":0.088},{"V":0,"E":5.8,"T":0.08},{"V":0,"E":5.9,"T":0.074},{"V":0,"E":6.0,"T":0.07},{"V":0,"E":6.1,"T":0.066},{"V":0,"E":6.2,"T":0.058},{"V":0,"E":6.3,"T":0.062},{"V":0,"E":6.4,"T":0.05},{"V":0,"E":6.5,"T":0.044},{"V":0,"E":6.6,"T":0.046},{"V":0,"E":6.7,"T":0.038},{"V":0,"E":6.8,"T":0.042},{"V":0,"E":6.9,"T":0.037},{"V":0,"E":7.0,"T":0.03},{"V":0,"E":7.15,"T":0.024},{"V":0,"E":7.3,"T":0.016},{"V":0,"E":7.45,"T":0.01},{"V":0,"E":7.6,"T":0.006},{"V":0,"E":7.75,"T":0.002},{"V":0,"E":7.9,"T":0},{"V":0,"E":9.5,"T":0},
{"V":3,"E":-9.5,"T":0},{"V":3,"E":-7.5,"T":0},{"V":3,"E":-7.35,"T":0.004},{"V":3,"E":-7.2,"T":0.01},{"V":3,"E":-7.05,"T":0.018},{"V":3,"E":-6.9,"T":0.026},{"V":3,"E":-6.75,"T":0.032},{"V":3,"E":-6.6,"T":0.038},{"V":3,"E":-6.45,"T":0.04},{"V":3,"E":-6.3,"T":0.042},{"V":3,"E":-6.15,"T":0.04},{"V":3,"E":-6.0,"T":0.039},{"V":3,"E":-5.85,"T":0.037},{"V":3,"E":-5.7,"T":0.038},{"V":3,"E":-5.55,"T":0.036},{"V":3,"E":-5.4,"T":0.038},{"V":3,"E":-5.25,"T":0.037},{"V":3,"E":-5.1,"T":0.036},{"V":3,"E":-4.95,"T":0.034},{"V":3,"E":-4.8,"T":0.03},{"V":3,"E":-4.65,"T":0.025},{"V":3,"E":-4.5,"T":0.02},{"V":3,"E":-4.35,"T":0.014},{"V":3,"E":-4.2,"T":0.009},{"V":3,"E":-4.05,"T":0.005},{"V":3,"E":-3.9,"T":0.002},{"V":3,"E":-3.7,"T":0},{"V":3,"E":3.7,"T":0},{"V":3,"E":3.9,"T":0.002},{"V":3,"E":4.05,"T":0.005},{"V":3,"E":4.2,"T":0.009},{"V":3,"E":4.35,"T":0.014},{"V":3,"E":4.5,"T":0.02},{"V":3,"E":4.65,"T":0.025},{"V":3,"E":4.8,"T":0.03},{"V":3,"E":4.95,"T":0.034},{"V":3,"E":5.1,"T":0.036},{"V":3,"E":5.25,"T":0.037},{"V":3,"E":5.4,"T":0.038},{"V":3,"E":5.55,"T":0.036},{"V":3,"E":5.7,"T":0.038},{"V":3,"E":5.85,"T":0.037},{"V":3,"E":6.0,"T":0.039},{"V":3,"E":6.15,"T":0.04},{"V":3,"E":6.3,"T":0.042},{"V":3,"E":6.45,"T":0.04},{"V":3,"E":6.6,"T":0.038},{"V":3,"E":6.75,"T":0.032},{"V":3,"E":6.9,"T":0.026},{"V":3,"E":7.05,"T":0.018},{"V":3,"E":7.2,"T":0.01},{"V":3,"E":7.35,"T":0.004},{"V":3,"E":7.5,"T":0},{"V":3,"E":9.5,"T":0},
{"V":5,"E":-9.5,"T":0},{"V":5,"E":-7.1,"T":0},{"V":5,"E":-6.9,"T":0.002},{"V":5,"E":-6.7,"T":0.005},{"V":5,"E":-6.5,"T":0.009},{"V":5,"E":-6.3,"T":0.014},{"V":5,"E":-6.1,"T":0.018},{"V":5,"E":-5.9,"T":0.021},{"V":5,"E":-5.7,"T":0.023},{"V":5,"E":-5.5,"T":0.025},{"V":5,"E":-5.3,"T":0.024},{"V":5,"E":-5.1,"T":0.021},{"V":5,"E":-4.9,"T":0.017},{"V":5,"E":-4.7,"T":0.012},{"V":5,"E":-4.5,"T":0.008},{"V":5,"E":-4.3,"T":0.004},{"V":5,"E":-4.1,"T":0.002},{"V":5,"E":-3.8,"T":0},{"V":5,"E":3.8,"T":0},{"V":5,"E":4.1,"T":0.002},{"V":5,"E":4.3,"T":0.004},{"V":5,"E":4.5,"T":0.008},{"V":5,"E":4.7,"T":0.012},{"V":5,"E":4.9,"T":0.017},{"V":5,"E":5.1,"T":0.021},{"V":5,"E":5.3,"T":0.024},{"V":5,"E":5.5,"T":0.025},{"V":5,"E":5.7,"T":0.023},{"V":5,"E":5.9,"T":0.021},{"V":5,"E":6.1,"T":0.018},{"V":5,"E":6.3,"T":0.014},{"V":5,"E":6.5,"T":0.009},{"V":5,"E":6.7,"T":0.005},{"V":5,"E":6.9,"T":0.002},{"V":5,"E":7.1,"T":0},{"V":5,"E":9.5,"T":0},
{"V":6,"E":-9.5,"T":0},{"V":6,"E":-6.6,"T":0},{"V":6,"E":-6.4,"T":0.002},{"V":6,"E":-6.2,"T":0.004},{"V":6,"E":-6.0,"T":0.007},{"V":6,"E":-5.8,"T":0.009},{"V":6,"E":-5.6,"T":0.011},{"V":6,"E":-5.4,"T":0.011},{"V":6,"E":-5.2,"T":0.01},{"V":6,"E":-5.0,"T":0.008},{"V":6,"E":-4.8,"T":0.005},{"V":6,"E":-4.6,"T":0.003},{"V":6,"E":-4.4,"T":0.001},{"V":6,"E":-4.2,"T":0},{"V":6,"E":4.2,"T":0},{"V":6,"E":4.4,"T":0.001},{"V":6,"E":4.6,"T":0.003},{"V":6,"E":4.8,"T":0.005},{"V":6,"E":5.0,"T":0.008},{"V":6,"E":5.2,"T":0.01},{"V":6,"E":5.4,"T":0.011},{"V":6,"E":5.6,"T":0.011},{"V":6,"E":5.8,"T":0.009},{"V":6,"E":6.0,"T":0.007},{"V":6,"E":6.2,"T":0.004},{"V":6,"E":6.4,"T":0.002},{"V":6,"E":6.6,"T":0},{"V":6,"E":9.5,"T":0},
{"V":8,"E":-9.5,"T":0},{"V":8,"E":-6.2,"T":0},{"V":8,"E":-6.0,"T":0.001},{"V":8,"E":-5.7,"T":0.002},{"V":8,"E":-5.4,"T":0.002},{"V":8,"E":-5.1,"T":0.0015},{"V":8,"E":-4.8,"T":0.0005},{"V":8,"E":-4.6,"T":0},{"V":8,"E":4.6,"T":0},{"V":8,"E":4.8,"T":0.0005},{"V":8,"E":5.1,"T":0.0015},{"V":8,"E":5.4,"T":0.002},{"V":8,"E":5.7,"T":0.002},{"V":8,"E":6.0,"T":0.001},{"V":8,"E":6.2,"T":0},{"V":8,"E":9.5,"T":0}
]
},
"vconcat": [
{
 "width": 263, "height": 88,
 "layer": [
  {"data": {"name": "a"}, "mark": {"type": "line", "strokeWidth": 1, "clip": true},
   "encoding": {
    "x": {"field": "E", "type": "quantitative", "scale": {"domain": [-4.9, 4.9], "nice": false, "zero": false}, "axis": {"values": [-4,-2,0,2,4], "title": null}},
    "y": {"field": "T", "type": "quantitative", "scale": {"domain": [0, 12], "nice": false}, "axis": {"values": [0,3,6,9,12], "format": "d", "title": "Trans. fun."}},
    "color": {"field": "V", "type": "nominal", "scale": {"domain": [0,1,4,6,8], "range": ["#000000","#0000ff","#00ff00","#a52a2a","#ff0000"]}, "legend": {"title": null, "labelExpr": "datum.value == 0 ? 'V = 0t' : datum.value + 't'"}}
   }},
  {"data": {"values": [{"lines": ["B = 10t", "T = 0t", "U = 2t"]}]}, "mark": {"type": "text", "align": "left", "baseline": "top", "dx": 3, "dy": 3, "lineHeight": 11.2},
   "encoding": {"x": {"datum": -4.9}, "y": {"datum": 12}, "text": {"field": "lines"}}},
  {"data": {"values": [{"p": "a"}]}, "mark": {"type": "text", "align": "left", "baseline": "bottom", "dx": 3, "dy": -1, "font": "Liberation Sans", "fontWeight": "bold", "fontSize": 11},
   "encoding": {"x": {"datum": -4.9}, "y": {"datum": 0}, "text": {"field": "p"}}}
 ]
},
{
 "width": 256, "height": 88,
 "layer": [
  {"data": {"name": "b"}, "mark": {"type": "line", "strokeWidth": 1, "clip": true},
   "encoding": {
    "x": {"field": "E", "type": "quantitative", "scale": {"domain": [-4.8, 4.8], "nice": false, "zero": false}, "axis": {"values": [-4,-3,-2,-1,0,1,2,3,4], "title": null}},
    "y": {"field": "T", "type": "quantitative", "scale": {"domain": [0, 2.8], "nice": false}, "axis": {"values": [0,0.5,1,1.5,2,2.5], "format": ".1~f", "title": "Trans. fun."}},
    "color": {"field": "V", "type": "nominal", "scale": {"domain": [0,2,4,8,10,12], "range": ["#000000","#00ffff","#0000ff","#00ff00","#a52a2a","#ff0000"]}, "legend": {"title": null, "labelExpr": "datum.value == 0 ? 'V = 0t' : datum.value + 't'"}}
   }},
  {"data": {"values": [{"lines": ["B = 10t", "T = 1t", "U = 2t"]}]}, "mark": {"type": "text", "align": "left", "baseline": "top", "dx": 3, "dy": 3, "lineHeight": 11.2},
   "encoding": {"x": {"datum": -4.8}, "y": {"datum": 2.8}, "text": {"field": "lines"}}},
  {"data": {"values": [{"p": "b"}]}, "mark": {"type": "text", "align": "left", "baseline": "bottom", "dx": 3, "dy": -1, "font": "Liberation Sans", "fontWeight": "bold", "fontSize": 11},
   "encoding": {"x": {"datum": -4.8}, "y": {"datum": 0}, "text": {"field": "p"}}}
 ]
},
{
 "width": 258, "height": 87,
 "layer": [
  {"data": {"name": "c"}, "mark": {"type": "line", "strokeWidth": 1, "clip": true},
   "encoding": {
    "x": {"field": "E", "type": "quantitative", "scale": {"domain": [-6, 6], "nice": false, "zero": false}, "axis": {"values": [-6,-4,-2,0,2,4,6], "title": null}},
    "y": {"field": "T", "type": "quantitative", "scale": {"domain": [0, 0.435], "nice": false}, "axis": {"values": [0,0.2,0.4], "format": ".1~f", "title": "Trans. fun."}},
    "color": {"field": "V", "type": "nominal", "scale": {"domain": [0,3,5,8,10,15], "range": ["#000000","#00ffff","#0000ff","#00ff00","#a52a2a","#ff0000"]}, "legend": {"title": null, "labelExpr": "datum.value == 0 ? 'V=0t' : datum.value + 't'"}}
   }},
  {"data": {"values": [{"lines": ["B = 10t", "T = 1t", "U = 5t"]}]}, "mark": {"type": "text", "align": "left", "baseline": "top", "dx": 3, "dy": 3, "lineHeight": 11.2},
   "encoding": {"x": {"datum": -6}, "y": {"datum": 0.435}, "text": {"field": "lines"}}},
  {"data": {"values": [{"p": "c"}]}, "mark": {"type": "text", "align": "left", "baseline": "bottom", "dx": 3, "dy": -1, "font": "Liberation Sans", "fontWeight": "bold", "fontSize": 11},
   "encoding": {"x": {"datum": -6}, "y": {"datum": 0}, "text": {"field": "p"}}}
 ]
},
{
 "width": 258, "height": 85,
 "layer": [
  {"data": {"name": "d"}, "mark": {"type": "line", "strokeWidth": 1, "clip": true},
   "encoding": {
    "x": {"field": "E", "type": "quantitative", "scale": {"domain": [-9.5, 9.5], "nice": false, "zero": false}, "axis": {"values": [-8,-6,-4,-2,0,2,4,6,8], "title": "E[t]", "titlePadding": 3}},
    "y": {"field": "T", "type": "quantitative", "scale": {"domain": [0, 0.112], "nice": false}, "axis": {"values": [0,0.1], "format": ".1~f", "title": "Trans. fun."}},
    "color": {"field": "V", "type": "nominal", "scale": {"domain": [0,3,5,6,8], "range": ["#000000","#00ffff","#0000ff","#00ff00","#a52a2a"]}, "legend": {"title": null, "labelExpr": "datum.value == 0 ? 'V=0t' : datum.value + 't'"}}
   }},
  {"data": {"values": [{"lines": ["B = 20t", "T = 1t", "U = 10t"]}]}, "mark": {"type": "text", "align": "left", "baseline": "top", "dx": 3, "dy": 3, "lineHeight": 11.2},
   "encoding": {"x": {"datum": -9.5}, "y": {"datum": 0.112}, "text": {"field": "lines"}}},
  {"data": {"values": [{"p": "d"}]}, "mark": {"type": "text", "align": "left", "baseline": "bottom", "dx": 3, "dy": -1, "font": "Liberation Sans", "fontWeight": "bold", "fontSize": 11},
   "encoding": {"x": {"datum": -9.5}, "y": {"datum": 0}, "text": {"field": "p"}}}
 ]
}
]
}
